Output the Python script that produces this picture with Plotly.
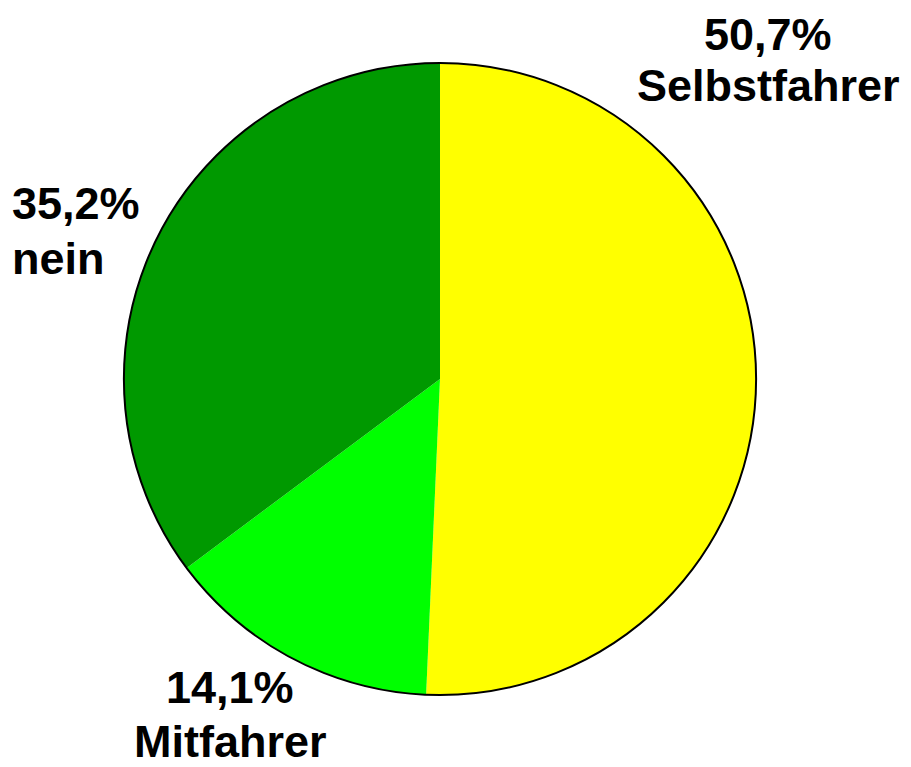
import plotly.graph_objects as go

categories = ["Selbstfahrer", "Mitfahrer", "nein"]
values = [50.7, 14.1, 35.2]
colors = ["#FFFF00", "#00FF00", "#009900"]

W, H = 911, 767
dom = dict(x=[116/W, 748/W], y=[1-687/H, 1-55/H])

fig = go.Figure()
fig.add_trace(go.Pie(
    labels=categories, values=values, sort=False, direction="clockwise", rotation=0,
    marker=dict(colors=colors, line=dict(width=0)),
    textinfo="none", hoverinfo="label+percent", showlegend=False, domain=dom,
))
# outer outline only
fig.add_trace(go.Pie(
    labels=["total"], values=[sum(values)], sort=False,
    marker=dict(colors=["rgba(0,0,0,0)"], line=dict(color="black", width=2)),
    textinfo="none", hoverinfo="skip", showlegend=False, domain=dom,
))

def fmt(v):
    return f"{v:.1f}".replace(".", ",") + "%"

# label anchor positions (pixels in the canvas): x, line1 y, line2 y, alignment
pos = {
    "Selbstfahrer": (760, 0, 78, "center"),
    "Mitfahrer": (222, 679, 733, "center"),
    "nein": (3, 195, 250, "left"),
}
font = dict(family="Liberation Sans, Arial, sans-serif", size=45, color="black")
anns = []
for c, v in zip(categories, values):
    x, y1, y2, al = pos[c]
    for txt, yy in ((fmt(v), y1), (c, y2)):
        anns.append(dict(x=x/W, y=1-yy/H, xref="paper", yref="paper", text=f"<b>{txt}</b>",
                         showarrow=False, xanchor=al, yanchor="top" if yy == 0 else "middle",
                         borderpad=0, font=font))

fig.update_layout(width=W, height=H, margin=dict(l=0, r=0, t=0, b=0),
                  paper_bgcolor="white", plot_bgcolor="white", annotations=anns)
fig.write_html("out.html")
